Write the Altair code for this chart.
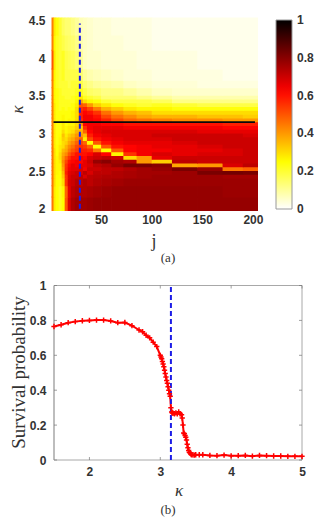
import altair as alt
import pandas as pd

FONT = "Liberation Sans"
SERIF = "Liberation Serif"

# ---------- panel (a) heat map ----------
j_edges = [1, 3, 5, 8, 11, 14, 17, 20, 24, 28, 32, 36, 42, 50, 60, 72, 85, 100, 120, 145, 170, 190, 205]
k_edges = [1.97, 2.15, 2.3, 2.4, 2.45, 2.5, 2.55, 2.6, 2.65, 2.7, 2.75, 2.8, 2.85, 2.9, 2.95, 3.0, 3.05,
           3.1, 3.15, 3.2, 3.25, 3.3, 3.35, 3.4, 3.45, 3.5, 3.6, 3.7, 3.85, 4.1, 4.3, 4.54]

r01 = [45, 28, 25, 22, 25, 50, 68, 74, 76, 76, 76, 77, 78, 78, 78, 78, 78, 78, 78, 78, 78, 78]
r02 = [45, 28, 25, 22, 26, 48, 66, 72, 74, 74, 74, 75, 76, 77, 78, 78, 78, 78, 78, 78, 77, 77]
r03 = [45, 30, 25, 24, 30, 55, 68, 70, 73, 72, 74, 72, 74, 75, 76, 77, 77, 77, 77, 77, 77, 77]
r04 = [45, 30, 25, 25, 33, 55, 67, 70, 70, 72, 68, 72, 73, 74, 74, 75, 76, 77, 77, 77, 76, 76]
r05 = [45, 30, 26, 25, 35, 58, 66, 68, 70, 68, 72, 68, 72, 72, 74, 75, 76, 76, 77, 82, 83, 82]
r06 = [45, 30, 26, 26, 38, 56, 64, 66, 66, 68, 64, 70, 70, 72, 72, 74, 76, 78, 82, 78, 45, 48]
r07 = [45, 30, 26, 26, 40, 55, 62, 66, 64, 66, 66, 68, 72, 74, 78, 82, 82, 80, 38, 40, 68, 72]
r08 = [45, 30, 26, 28, 42, 52, 60, 62, 64, 62, 66, 70, 78, 80, 76, 74, 40, 32, 72, 70, 70, 70]
r09 = [45, 30, 26, 30, 40, 48, 55, 60, 60, 64, 62, 68, 70, 72, 70, 30, 40, 66, 70, 70, 70, 70]
r10 = [45, 30, 25, 30, 38, 42, 50, 55, 60, 60, 60, 62, 68, 62, 26, 55, 64, 68, 66, 68, 68, 70]
r11 = [45, 30, 25, 28, 35, 38, 45, 50, 54, 58, 58, 56, 45, 25, 50, 62, 64, 64, 66, 66, 68, 70]
r12 = [45, 28, 25, 28, 30, 36, 42, 46, 52, 56, 54, 48, 25, 50, 60, 62, 64, 66, 66, 68, 70, 70]
r13 = [44, 28, 24, 26, 30, 32, 38, 42, 48, 52, 48, 25, 50, 60, 64, 66, 66, 66, 68, 70, 70, 70]
r14 = [44, 28, 24, 26, 32, 30, 35, 38, 44, 48, 28, 52, 60, 64, 66, 68, 68, 68, 70, 70, 70, 70]
r15 = [44, 28, 24, 25, 34, 28, 32, 35, 40, 40, 35, 58, 64, 66, 68, 68, 68, 70, 70, 70, 70, 68]
r16 = [44, 28, 24, 24, 30, 26, 28, 30, 36, 36, 48, 62, 66, 68, 68, 68, 68, 68, 68, 66, 66, 66]
r17 = [44, 28, 24, 24, 28, 26, 28, 28, 32, 32, 56, 64, 66, 66, 66, 64, 64, 64, 64, 64, 62, 62]
r18 = [44, 28, 24, 24, 28, 24, 26, 26, 30, 40, 62, 64, 64, 62, 62, 60, 60, 60, 60, 60, 58, 58]
r19 = [44, 28, 24, 24, 26, 24, 26, 26, 30, 56, 64, 64, 62, 58, 52, 48, 46, 44, 42, 42, 40, 40]
r20 = [44, 28, 24, 24, 26, 24, 24, 26, 30, 58, 64, 64, 60, 52, 46, 42, 38, 36, 36, 34, 34, 32]
r21 = [44, 28, 24, 24, 24, 24, 24, 26, 30, 58, 62, 60, 55, 46, 40, 36, 34, 30, 30, 30, 30, 30]
r22 = [44, 28, 24, 22, 24, 22, 24, 24, 30, 55, 58, 52, 44, 36, 32, 28, 26, 26, 24, 24, 24, 24]
r23 = [44, 28, 24, 22, 22, 22, 22, 24, 28, 50, 48, 40, 32, 28, 24, 22, 20, 22, 20, 18, 18, 18]
r24 = [44, 26, 24, 22, 22, 22, 22, 22, 26, 38, 30, 26, 24, 20, 18, 18, 18, 16, 12, 12, 12, 12]
r25 = [44, 26, 24, 22, 22, 20, 20, 22, 24, 28, 22, 20, 18, 14, 14, 14, 12, 10, 8, 8, 8, 8]
r26 = [44, 26, 24, 22, 20, 20, 20, 20, 22, 22, 18, 15, 14, 12, 12, 10, 8, 6, 5, 5, 5, 5]
r27 = [44, 26, 22, 20, 20, 20, 18, 20, 20, 18, 14, 12, 10, 9, 8, 6, 5, 4, 4, 3, 3, 3]
r28 = [45, 26, 22, 20, 22, 18, 18, 18, 18, 14, 10, 8, 7, 6, 5, 4, 4, 3, 3, 3, 2, 2]
r29 = [50, 28, 22, 20, 22, 18, 17, 16, 14, 10, 6, 5, 5, 4, 4, 4, 3, 3, 3, 2, 2, 2]
r30 = [44, 26, 22, 20, 18, 16, 15, 14, 12, 8, 6, 5, 4, 4, 4, 3, 3, 2, 2, 2, 2, 2]
r31 = [44, 28, 24, 20, 16, 14, 14, 12, 10, 7, 6, 5, 4, 4, 3, 3, 3, 2, 2, 2, 2, 2]
heat_rows = [r01, r02, r03, r04, r05, r06, r07, r08, r09, r10, r11, r12, r13, r14, r15, r16,
             r17, r18, r19, r20, r21, r22, r23, r24, r25, r26, r27, r28, r29, r30, r31]

x_ticks_a = [50, 100, 150, 200]
y_ticks_a = [2, 2.5, 3, 3.5, 4, 4.5]
cbar_ticks = [0, 0.2, 0.4, 0.6, 0.8, 1]
hot_stops = [0, 0.25, 0.625, 1]
hot_colors = ["#ffffff", "#ffff00", "#ff0000", "#000000"]

# ---------- panel (b) curve ----------
kappa = [1.5, 1.6, 1.7, 1.8, 1.9, 2.0, 2.1, 2.2, 2.3, 2.4, 2.5, 2.6, 2.7, 2.75, 2.8, 2.85, 2.9, 2.95, 3.0,
         3.01, 3.02, 3.03, 3.04, 3.05, 3.06, 3.07, 3.08, 3.09, 3.1, 3.11, 3.12, 3.13, 3.14, 3.15, 3.16, 3.17,
         3.18, 3.2, 3.22, 3.24, 3.26, 3.28, 3.3, 3.31, 3.32, 3.33, 3.34, 3.35, 3.36, 3.37, 3.38, 3.39, 3.4,
         3.41, 3.42, 3.43, 3.44, 3.46, 3.48, 3.5, 3.55, 3.6, 3.7, 3.8, 3.9, 4.0, 4.1, 4.2, 4.3, 4.4, 4.5,
         4.6, 4.7, 4.8, 4.9, 5.0]
survival = [.765, .775, .787, .793, .798, .80, .802, .802, .797, .787, .788, .77, .745, .735, .715, .70, .675,
            .65, .60, .59, .58, .565, .55, .535, .515, .495, .475, .455, .44, .42, .40, .38, .365, .30, .275,
            .27, .268, .265, .27, .265, .275, .265, .26, .24, .20, .155, .15, .14, .13, .115, .09, .07, .055,
            .045, .04, .035, .03, .03, .028, .03, .03, .03, .026, .025, .028, .024, .025, .026, .022, .026,
            .025, .023, .023, .021, .021, .021]
x_ticks_b = [2, 3, 4, 5]
y_ticks_b = [0, 0.2, 0.4, 0.6, 0.8, 1]

# ---------- tables ----------
for row in heat_rows:
    assert len(row) == len(j_edges) - 1
assert len(heat_rows) == len(k_edges) - 1
assert len(kappa) == len(survival)

# each cell runs a hair past its upper edges so no seams show between neighbouring rectangles
cells = pd.DataFrame([
    {"j0": j_edges[c], "j1": j_edges[c + 1] + 0.7, "k0": k_edges[r], "k1": k_edges[r + 1] + 0.012, "v": v / 100}
    for r, row in enumerate(heat_rows) for c, v in enumerate(row)
])
curve = pd.DataFrame({"kappa": kappa, "p": survival})

AX = dict(domain=False, ticks=False, grid=False, labelFont=FONT, labelFontWeight="bold", labelFontSize=12,
          labelColor="#333333", labelFlush=False, labelOverlap=False)

# ---------- panel (a) ----------
W_A, H_A = 207, 193.5
x_a = alt.Scale(domain=[0.5, 205], nice=False, zero=False)
y_a = alt.Scale(domain=[1.97, 4.54], nice=False, zero=False)
ax_xa = alt.Axis(values=x_ticks_a, format="d", labelPadding=3, **AX)
ax_ya = alt.Axis(values=y_ticks_a, format="~g", labelPadding=6, **AX)
hot = alt.Scale(domain=hot_stops, range=hot_colors, clamp=True, interpolate="rgb")
CB_TOP, CB_LEN = 2.5, 189

heat = alt.Chart(cells).mark_rect(strokeWidth=0, clip=True).encode(
    x=alt.X("j0:Q", scale=x_a, title=None, axis=ax_xa),
    x2="j1:Q",
    y=alt.Y("k0:Q", scale=y_a, title=None, axis=ax_ya),
    y2="k1:Q",
    color=alt.Color("v:Q", scale=hot, legend=alt.Legend(
        type="gradient", orient="none", legendX=225, legendY=CB_TOP, title=None, gradientLength=CB_LEN,
        gradientThickness=16, gradientStrokeColor="#999999", gradientStrokeWidth=1, values=cbar_ticks,
        labelExpr="''", labelFontSize=1, labelOverlap=False)),
)

cb_labels = alt.Chart(pd.DataFrame({"v": cbar_ticks})).transform_calculate(
    py=f"{CB_TOP + CB_LEN} - datum.v * {CB_LEN}", lab="format(datum.v, '~g')"
).mark_text(font=FONT, fontWeight="bold", fontSize=12, color="#333333", align="left", baseline="middle").encode(
    x=alt.value(246), y=alt.Y("py:Q", scale=None, title=None, axis=ax_ya), text="lab:N")

blue_a = alt.Chart(pd.DataFrame({"j": [29], "a": [2.0], "b": [4.46]})).mark_rule(
    color="#1c1ce6", strokeWidth=2, strokeDash=[5, 3]
).encode(x=alt.X("j:Q", scale=x_a, title=None, axis=ax_xa), y=alt.Y("a:Q", scale=y_a, title=None, axis=ax_ya), y2="b:Q")

black_a = alt.Chart(pd.DataFrame({"a": [3.0], "b": [202.0], "k": [3.15]})).mark_rule(
    color="#0a0a0a", strokeWidth=1.8
).encode(x=alt.X("a:Q", scale=x_a, title=None, axis=ax_xa), x2="b:Q", y=alt.Y("k:Q", scale=y_a, title=None, axis=ax_ya))

k_title_a = alt.Chart(pd.DataFrame({"t": ["κ"]})).mark_text(
    font=SERIF, fontStyle="italic", fontSize=17, color="#333333", angle=270
).encode(x=alt.value(-33.5), y=alt.value(92), text="t:N")
j_title = alt.Chart(pd.DataFrame({"t": ["j"]})).mark_text(
    font=SERIF, fontSize=18, color="#333333"
).encode(x=alt.value(103), y=alt.value(224), text="t:N")
cap_a = alt.Chart(pd.DataFrame({"t": ["(a)"]})).mark_text(
    font=SERIF, fontSize=13, color="#333333"
).encode(x=alt.value(117), y=alt.value(240), text="t:N")

panel_a = alt.layer(heat, blue_a, black_a, cb_labels, k_title_a, j_title, cap_a).properties(
    width=W_A, height=H_A, view=alt.ViewConfig(stroke=None))

# ---------- panel (b): the panel starts 3px left of its frame, which is drawn from the data range ----------
B_OFF = 3
W_B, H_B = 251, 174.5
x_min, x_max = 1.5, 5
x_b = alt.Scale(domain=[x_min - B_OFF * (x_max - x_min) / (W_B - B_OFF), x_max], nice=False, zero=False)
y_b = alt.Scale(domain=[0, 1], nice=False, zero=False)
ax_xb = alt.Axis(values=x_ticks_b, format="d", labelPadding=6, **AX)
ax_yb = alt.Axis(values=y_ticks_b, format="~g", labelPadding=5, **AX)
GREY = "#a8a8a8"
TICK = "#777777"


def xb(field):
    return alt.X(field, scale=x_b, title=None, axis=ax_xb)


def yb(field):
    return alt.Y(field, scale=y_b, title=None, axis=ax_yb)


line = alt.Chart(curve).mark_line(color="#ff0000", strokeWidth=2, clip=False).encode(x=xb("kappa:Q"), y=yb("p:Q"))
pts = alt.Chart(curve).mark_point(
    shape="M-1,0L1,0M0,-1L0,1", size=28, color="#ff0000", strokeWidth=1.5, filled=False, opacity=1
).encode(x=xb("kappa:Q"), y=yb("p:Q"))

left_edge = alt.Chart(pd.DataFrame({"x": [x_min], "a": [0.0], "b": [1.0]})).mark_rule(
    color="#bdbdbd", strokeWidth=2).encode(x=xb("x:Q"), y=yb("a:Q"), y2="b:Q")
right_edge = alt.Chart(pd.DataFrame({"x": [x_max], "a": [0.0], "b": [1.0]})).mark_rule(
    color=GREY, strokeWidth=1).encode(x=xb("x:Q"), y=yb("a:Q"), y2="b:Q")
h_edges = alt.Chart(pd.DataFrame({"a": [x_min, x_min], "b": [x_max, x_max], "y": [0.0, 1.0]})).mark_rule(
    color=GREY, strokeWidth=1).encode(x=xb("a:Q"), x2="b:Q", y=yb("y:Q"))

xt = pd.DataFrame({"v": x_ticks_b})
yt = pd.DataFrame({"v": y_ticks_b})
ticks = [
    alt.Chart(xt).mark_rule(color=TICK, strokeWidth=0.7).encode(
        x=xb("v:Q"), y=alt.value(H_B), y2=alt.value(H_B - 3)),
    alt.Chart(xt).mark_rule(color=TICK, strokeWidth=0.7).encode(
        x=xb("v:Q"), y=alt.value(0), y2=alt.value(3)),
    alt.Chart(yt).mark_rule(color=TICK, strokeWidth=0.7).encode(
        y=yb("v:Q"), x=alt.value(B_OFF), x2=alt.value(B_OFF + 3)),
    alt.Chart(yt).mark_rule(color=TICK, strokeWidth=0.7).encode(
        y=yb("v:Q"), x=alt.value(W_B), x2=alt.value(W_B - 3)),
]
blue_b = alt.Chart(pd.DataFrame({"x": [3.15], "a": [0.0], "b": [1.0]})).mark_rule(
    color="#1c1ce6", strokeWidth=2, strokeDash=[5, 3]
).encode(x=xb("x:Q"), y=yb("a:Q"), y2="b:Q")

surv_title = alt.Chart(pd.DataFrame({"t": ["Survival probability"]})).mark_text(
    font=SERIF, fontSize=19, color="#333333", angle=270
).encode(x=alt.value(-32.5), y=alt.value(87), text="t:N")
k_title_b = alt.Chart(pd.DataFrame({"t": ["κ"]})).mark_text(
    font=SERIF, fontStyle="italic", fontSize=17, color="#333333"
).encode(x=alt.value(128), y=alt.value(205), text="t:N")
cap_b = alt.Chart(pd.DataFrame({"t": ["(b)"]})).mark_text(
    font=SERIF, fontSize=13, color="#333333"
).encode(x=alt.value(117), y=alt.value(224), text="t:N")

panel_b = alt.layer(line, left_edge, right_edge, h_edges, *ticks, blue_b, pts, surv_title, k_title_b, cap_b).properties(
    width=W_B, height=H_B, view=alt.ViewConfig(stroke=None))

chart = alt.concat(panel_a, panel_b, columns=1, spacing=15, align="none", bounds="full").resolve_scale(
    x="independent", y="independent", color="independent"
).properties(padding={"left": 0, "top": 5.5, "right": 0, "bottom": 0}).configure(
    background="white"
)

chart.save("out.html", embed_options={"renderer": "svg", "actions": False})
